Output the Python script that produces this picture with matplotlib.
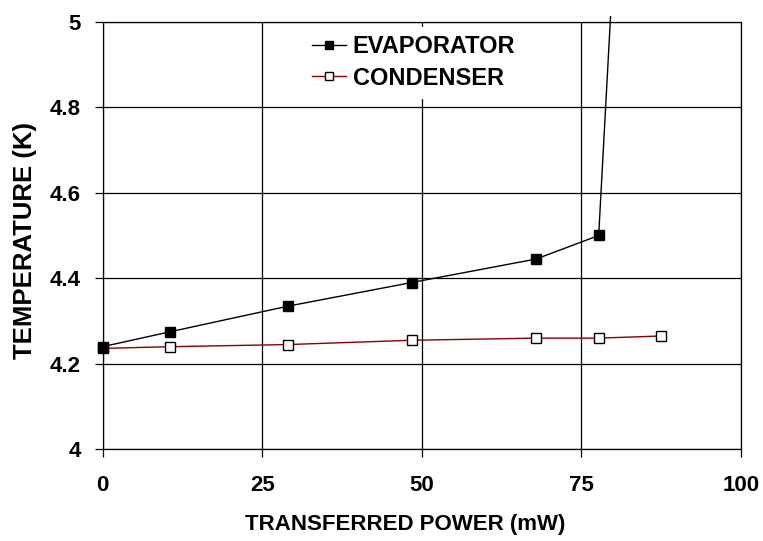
import matplotlib
matplotlib.use("Agg")
import matplotlib.pyplot as plt
from matplotlib.patches import Rectangle

# Data
evap_power = [0, 10.6, 29.1, 48.4, 67.9, 77.7, 87.5]
evap_temp = [4.24, 4.275, 4.335, 4.39, 4.445, 4.50, 7.2]
cond_power = [0, 10.6, 29.1, 48.4, 67.9, 77.7, 87.5]
cond_temp = [4.236, 4.24, 4.245, 4.255, 4.26, 4.26, 4.265]
x_ticks = [0, 25, 50, 75, 100]
y_ticks = [4, 4.2, 4.4, 4.6, 4.8, 5]
y_ticklabels = ["4", "4.2", "4.4", "4.6", "4.8", "5"]

plt.rcParams['font.family'] = ['Liberation Sans', 'DejaVu Sans']
plt.rcParams['font.weight'] = 'bold'

fig = plt.figure(figsize=(7.63, 5.41), dpi=100)
ax = fig.add_axes([0.1346, 0.1695, 0.9712 - 0.1346, 0.9599 - 0.1695])

ax.set_xlim(0, 100)
ax.set_ylim(4, 5)
ax.set_xticks(x_ticks)
ax.set_yticks(y_ticks)
ax.set_yticklabels(y_ticklabels)
ax.grid(True, color='black', linewidth=0.9)
ax.set_axisbelow(True)
for s in ax.spines.values():
    s.set_linewidth(0.9)
    s.set_color('black')
ax.tick_params(direction='out', length=5.8, width=0.9, labelsize=16)
ax.tick_params(axis='x', pad=13)
ax.tick_params(axis='y', pad=10)
for lab in ax.get_xticklabels() + ax.get_yticklabels():
    lab.set_fontweight('bold')

clip = Rectangle((-0.03, -0.03), 1.06, 1.044, transform=ax.transAxes,
                 facecolor='none', edgecolor='none')
ax.add_patch(clip)

l2, = ax.plot(cond_power, cond_temp, color='#8B0000', linewidth=1.0,
              marker='s', markersize=6.5, markerfacecolor='white',
              markeredgecolor='black', markeredgewidth=1.0, label='CONDENSER',
              zorder=3)
l1, = ax.plot(evap_power, evap_temp, color='black', linewidth=1.0,
              marker='s', markersize=6.8, markerfacecolor='black',
              markeredgecolor='black', label='EVAPORATOR', zorder=4)
for l in (l1, l2):
    l.set_clip_path(clip)

leg = ax.legend(handles=[l1, l2], loc='upper left', bbox_to_anchor=(0.312, 0.993),
                frameon=True, fancybox=False, framealpha=1.0, edgecolor='white',
                prop={'weight': 'bold', 'size': 17}, handlelength=1.4,
                handletextpad=0.3, labelspacing=0.35, borderpad=0.35,
                borderaxespad=0.1, markerscale=0.9)

ax.set_xlabel('TRANSFERRED POWER (mW)', fontsize=16, fontweight='bold')
ax.set_ylabel('TEMPERATURE (K)', fontsize=18.5, fontweight='bold')
ax.xaxis.set_label_coords(0.474, -0.152)
ax.yaxis.set_label_coords(-0.103, 0.489)

fig.savefig('out.png', dpi=100)
